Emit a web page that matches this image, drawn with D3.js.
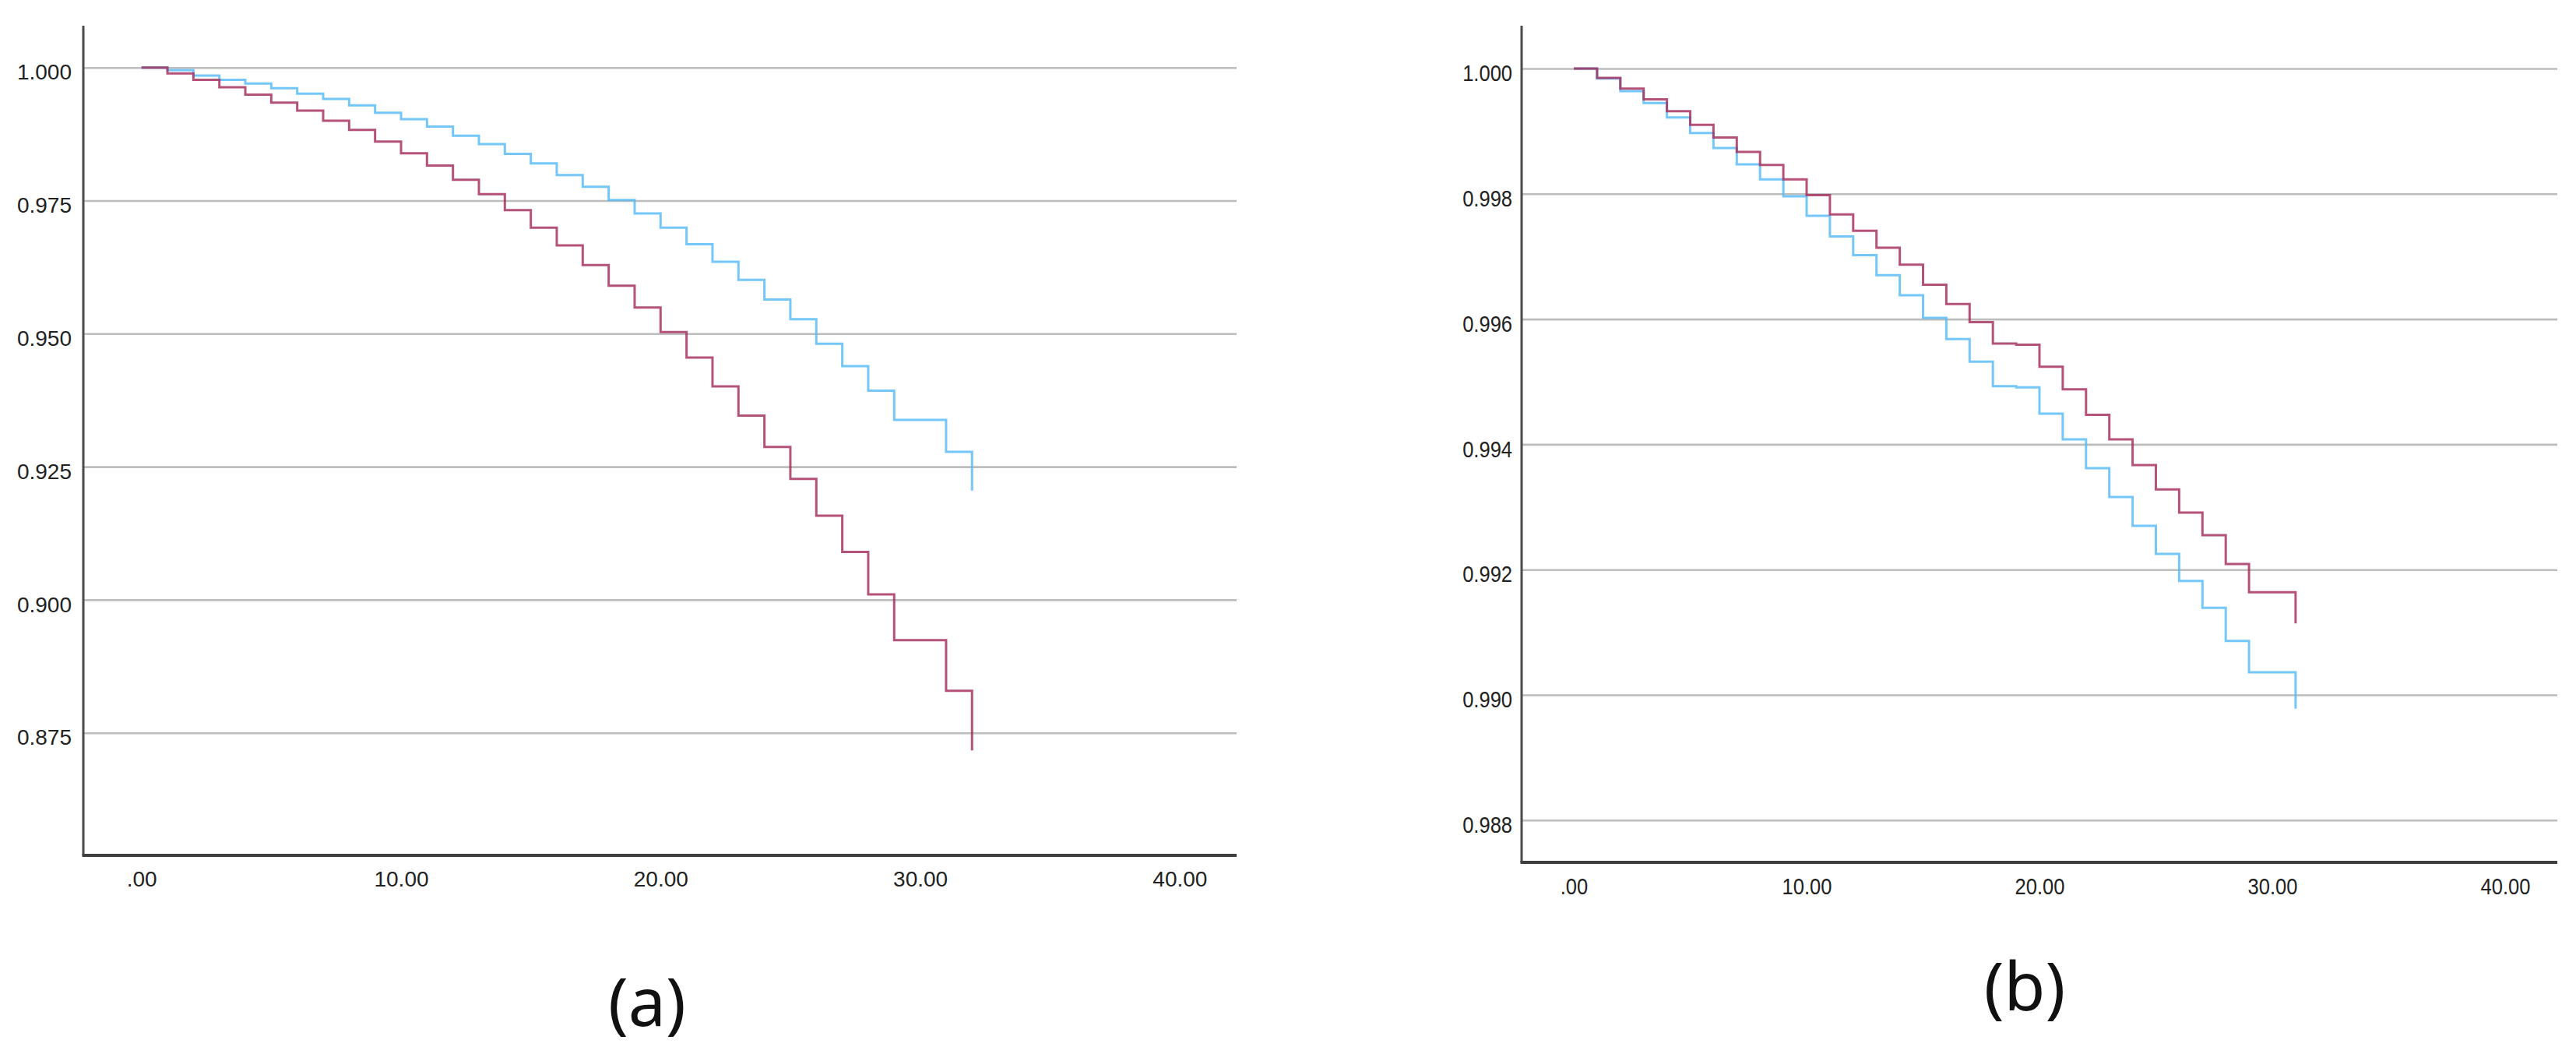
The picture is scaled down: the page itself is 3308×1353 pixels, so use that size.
<!DOCTYPE html>
<html>
<head>
<meta charset="utf-8">
<script src="https://cdn.jsdelivr.net/npm/d3@7"></script>
<style>
  html, body { margin: 0; padding: 0; background: #fff; }
  svg { display: block; }
  .tick text { font-family: "Liberation Sans", Arial, sans-serif; fill: #222; }
</style>
</head>
<body>
<svg id="chart" width="3308" height="1353"></svg>
<script>
// ---------------- DATA ----------------
// Panel (a): survival steps at integer times 0..32
const timesA = [0,1,2,3,4,5,6,7,8,9,10,11,12,13,14,15,16,17,18,19,20,21,22,23,24,25,26,27,28,29,30,31,32];
const redA = [1.0000,0.9989,0.9977,0.9963,0.9949,0.9934,0.9919,0.9900,0.9883,0.9861,0.9839,0.9816,0.9789,0.9762,0.9732,0.9699,0.9666,0.9629,0.9590,0.9549,0.9503,0.9455,0.9401,0.9346,0.9287,0.9227,0.9158,0.9090,0.9010,0.8924,0.8924,0.8829,0.8717];
const blueA = [1.0000,0.9995,0.9985,0.9977,0.9970,0.9961,0.9951,0.9941,0.9929,0.9915,0.9903,0.9889,0.9872,0.9856,0.9838,0.9820,0.9798,0.9776,0.9751,0.9726,0.9699,0.9668,0.9635,0.9601,0.9564,0.9527,0.9481,0.9439,0.9393,0.9338,0.9338,0.9278,0.9205];
// Panel (b): survival steps at integer times 0..31
const timesB = [0,1,2,3,4,5,6,7,8,9,10,11,12,13,14,15,16,17,18,19,20,21,22,23,24,25,26,27,28,29,30,31];
const redB = [1.00000,0.99985,0.99968,0.99951,0.99932,0.99910,0.99890,0.99867,0.99846,0.99823,0.99798,0.99767,0.99741,0.99714,0.99687,0.99655,0.99624,0.99595,0.99561,0.99559,0.99524,0.99488,0.99447,0.99408,0.99367,0.99328,0.99291,0.99255,0.99209,0.99164,0.99164,0.99114];
const blueB = [1.00000,0.99984,0.99964,0.99945,0.99922,0.99897,0.99873,0.99847,0.99823,0.99796,0.99765,0.99732,0.99702,0.99670,0.99638,0.99602,0.99568,0.99532,0.99493,0.99491,0.99449,0.99408,0.99362,0.99316,0.99270,0.99225,0.99182,0.99139,0.99086,0.99036,0.99036,0.98978];

const xTicks = [0, 10, 20, 30, 40];
const xTickLabels = [".00", "10.00", "20.00", "30.00", "40.00"];
const yTicksA = [0.875, 0.900, 0.925, 0.950, 0.975, 1.000];
const yTicksB = [0.988, 0.990, 0.992, 0.994, 0.996, 0.998, 1.000];
const panelTitles = ["(a)", "(b)"];

// ---------------- LAYOUT ----------------
const RED = "#a52c5c";
const BLUE = "#55bbf6";

const panels = [
  { times: timesA, red: redA, blue: blueA, yTicks: yTicksA,
    axisX: 107, top: 33, bottom: 1098, right: 1588,
    xRange: [181.7, 1514.9], yDom: [0.875, 1.0], yRange: [940.7, 86.7],
    labelScale: 1.0, fontSize: 28, xPad: 20, yPad: 15,
    title: panelTitles[0], titleX: 831, titleY: 1317 },
  { times: timesB, red: redB, blue: blueB, yTicks: yTicksB,
    axisX: 1954, top: 33, bottom: 1107, right: 3284,
    xRange: [2021, 3217], yDom: [0.988, 1.0], yRange: [1052.8, 88],
    labelScale: 0.88, fontSize: 29, xPad: 20.5, yPad: 12,
    title: panelTitles[1], titleX: 2600, titleY: 1297 }
];

const svg = d3.select("#chart");

panels.forEach(p => {
  const x = d3.scaleLinear().domain([0, 40]).range(p.xRange);
  const y = d3.scaleLinear().domain(p.yDom).range(p.yRange);
  const g = svg.append("g");

  // gridlines + y labels
  const yAxis = d3.axisLeft(y)
    .tickValues(p.yTicks)
    .tickSize(-(p.right - p.axisX))
    .tickPadding(p.yPad)
    .tickFormat(d3.format(".3f"));
  const gy = g.append("g")
    .attr("transform", `translate(${p.axisX},0)`)
    .call(yAxis);
  gy.select(".domain").remove();
  gy.selectAll(".tick line").attr("stroke", "#bdbdbd").attr("stroke-width", 2.6);
  gy.selectAll(".tick text")
    .attr("font-size", p.fontSize)
    .attr("dy", "0.54em")
    .attr("x", null)
    .attr("transform", `translate(${-p.yPad},0) scale(${p.labelScale},1)`);

  // x labels
  const xAxis = d3.axisBottom(x)
    .tickValues(xTicks)
    .tickSize(0)
    .tickPadding(p.xPad)
    .tickFormat((d, i) => xTickLabels[i]);
  const gx = g.append("g")
    .attr("transform", `translate(0,${p.bottom})`)
    .call(xAxis);
  gx.select(".domain").remove();
  gx.selectAll(".tick text")
    .attr("font-size", p.fontSize)
    .attr("transform", `scale(${p.labelScale},1)`);

  // axis lines
  g.append("line")
    .attr("x1", p.axisX).attr("x2", p.axisX)
    .attr("y1", p.top).attr("y2", p.bottom)
    .attr("stroke", "#4a4a4a").attr("stroke-width", 3);
  g.append("line")
    .attr("x1", p.axisX - 1.5).attr("x2", p.right)
    .attr("y1", p.bottom).attr("y2", p.bottom)
    .attr("stroke", "#3f3f3f").attr("stroke-width", 4);

  // survival step curves
  const line = d3.line()
    .x(d => x(d[0]))
    .y(d => y(d[1]))
    .curve(d3.curveStepAfter);

  [[p.blue, BLUE], [p.red, RED]].forEach(([vals, col]) => {
    g.append("path")
      .datum(p.times.map((t, i) => [t, vals[i]]))
      .attr("fill", "none")
      .attr("stroke", col)
      .attr("stroke-width", 3)
      .attr("stroke-opacity", 0.82)
      .attr("d", line);
  });

  // panel caption
  svg.append("text")
    .attr("x", p.titleX)
    .attr("y", p.titleY)
    .attr("text-anchor", "middle")
    .attr("font-family", "'Noto Sans', 'Open Sans', sans-serif")
    .attr("font-size", 86)
    .attr("fill", "#111")
    .text(p.title);
});
</script>
</body>
</html>
